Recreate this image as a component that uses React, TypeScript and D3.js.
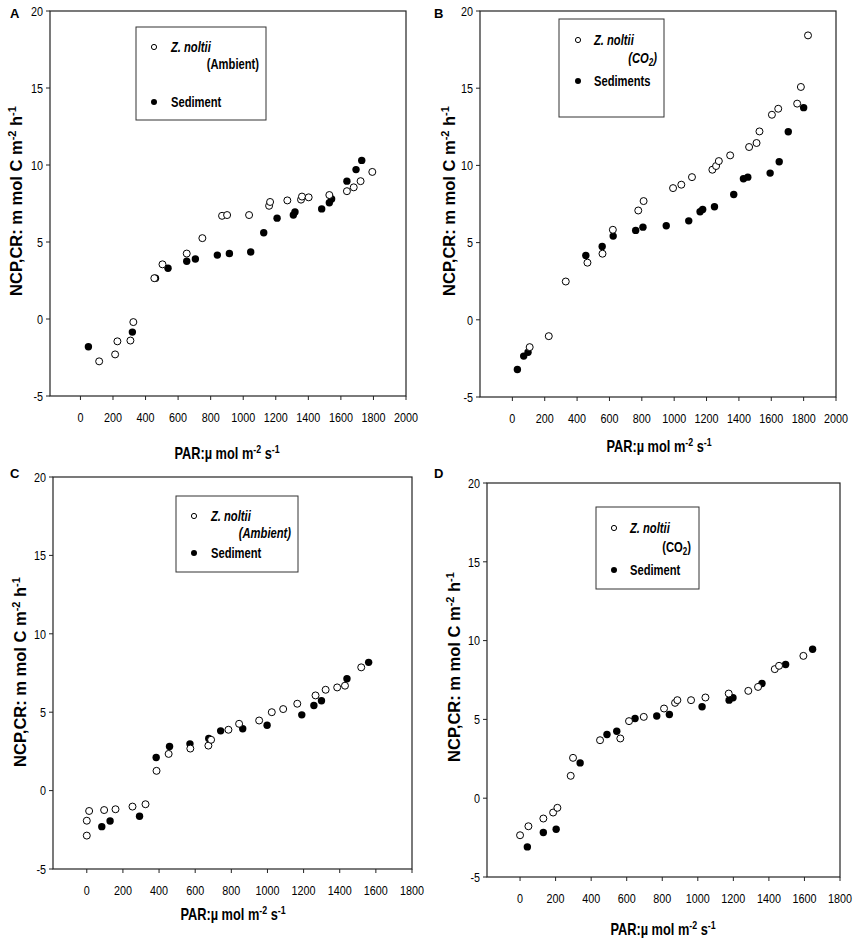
import * as React from 'react';
import * as d3 from 'd3';

type Pt = [number, number];

// PAR, NCP/CR pairs
const aNoltii: Pt[] = [
	[115, -2.75], [213, -2.3], [227, -1.45], [307, -1.4], [325, -0.2], [454, 2.65], [504, 3.55],
	[653, 4.25], [749, 5.25], [870, 6.7], [901, 6.75], [1036, 6.75], [1159, 7.35], [1165, 7.6],
	[1271, 7.7], [1355, 7.75], [1361, 7.95], [1402, 7.9], [1529, 8.05], [1637, 8.3], [1679, 8.55],
	[1721, 8.95], [1793, 9.55],
];
const aSediment: Pt[] = [
	[49, -1.8], [319, -0.85], [461, 2.65], [538, 3.3], [653, 3.75], [706, 3.9], [841, 4.15],
	[915, 4.25], [1046, 4.35], [1126, 5.6], [1208, 6.55], [1308, 6.75], [1318, 6.95], [1482, 7.15],
	[1529, 7.55], [1543, 7.8], [1637, 8.95], [1693, 9.7], [1728, 10.3],
];
const bNoltii: Pt[] = [
	[107, -1.77], [225, -1.06], [330, 2.48], [464, 3.7], [557, 4.28], [621, 5.83], [778, 7.08],
	[811, 7.69], [993, 8.53], [1044, 8.75], [1110, 9.24], [1236, 9.72], [1259, 9.96], [1276, 10.28],
	[1346, 10.65], [1463, 11.19], [1509, 11.45], [1527, 12.2], [1604, 13.28], [1643, 13.67],
	[1760, 14.0], [1783, 15.08], [1827, 18.42],
];
const bSediment: Pt[] = [
	[31, -3.22], [70, -2.35], [97, -2.1], [454, 4.17], [555, 4.75], [623, 5.42], [762, 5.79],
	[807, 6.0], [951, 6.09], [1090, 6.41], [1160, 7.0], [1176, 7.15], [1249, 7.32], [1368, 8.12],
	[1428, 9.14], [1455, 9.24], [1593, 9.5], [1649, 10.24], [1705, 12.18], [1800, 13.74],
];
const cNoltii: Pt[] = [
	[0, -2.87], [0, -1.92], [13, -1.3], [96, -1.24], [159, -1.19], [253, -1.02], [325, -0.87],
	[386, 1.26], [453, 2.34], [573, 2.68], [673, 2.87], [688, 3.24], [784, 3.88], [843, 4.26],
	[954, 4.47], [1024, 5.0], [1087, 5.2], [1165, 5.54], [1266, 6.07], [1322, 6.43], [1386, 6.58],
	[1429, 6.69], [1519, 7.86],
];
const cSediment: Pt[] = [
	[83, -2.3], [129, -1.94], [292, -1.64], [384, 2.11], [458, 2.81], [571, 2.98], [675, 3.32],
	[741, 3.81], [863, 3.94], [998, 4.17], [1190, 4.83], [1257, 5.43], [1299, 5.73], [1440, 7.13],
	[1560, 8.18],
];
const dNoltii: Pt[] = [
	[0, -2.35], [47, -1.78], [131, -1.29], [186, -0.91], [210, -0.61], [285, 1.42], [298, 2.56],
	[450, 3.68], [564, 3.79], [613, 4.89], [696, 5.16], [810, 5.69], [872, 6.05], [885, 6.22],
	[962, 6.22], [1043, 6.39], [1174, 6.64], [1284, 6.81], [1339, 7.06], [1433, 8.19], [1457, 8.4],
	[1594, 9.03],
];
const dSediment: Pt[] = [
	[41, -3.09], [131, -2.18], [203, -1.97], [338, 2.24], [489, 4.04], [544, 4.25], [647, 5.06],
	[769, 5.22], [840, 5.31], [1024, 5.8], [1176, 6.22], [1198, 6.37], [1361, 7.28], [1494, 8.48],
	[1646, 9.45],
];

const yTicks = [-5, 0, 5, 10, 15, 20];
const xTicksWide = d3.range(0, 2001, 200);
const xTicksNarrow = d3.range(0, 1801, 200);

const SANS = "'Liberation Sans', Arial, sans-serif";
const SQUEEZE = 0.8; // no narrow face installed, so squeeze the regular one

// text drawn in a squeezed sans, anchored at (x, y)
const NText = ({ x, y, children, ...rest }) => (
	<g transform={`translate(${x},${y}) scale(${SQUEEZE},1)`}>
		<text fontFamily={SANS} {...rest}>
			{children}
		</text>
	</g>
);

const Panel = ({ p }) => {
	const { l, t, r, b } = p.frame;
	const x = d3.scaleLinear().domain(p.xDomain).range([l, r]);
	const y = d3.scaleLinear().domain([-5, 20]).range([b, t]);
	const lg = p.legend;

	return (
		<g>
			<text x={p.letter[0]} y={p.letter[1]} fontFamily={SANS} fontWeight='bold' fontSize={13}>
				{p.name}
			</text>
			<rect x={l} y={t} width={r - l} height={b - t} fill='none' stroke='#222' strokeWidth={1.2} />
			{yTicks.map(v => (
				<g key={v}>
					<line x1={l - 4} x2={l} y1={y(v)} y2={y(v)} stroke='#222' />
					<NText x={l - 7} y={y(v)} dy='0.35em' textAnchor='end' fontSize={13.5}>
						{v}
					</NText>
				</g>
			))}
			{p.xTicks.map(v => (
				<g key={v}>
					<line x1={x(v)} x2={x(v)} y1={b} y2={b + 4} stroke='#222' />
					<NText x={x(v)} y={b + 26} textAnchor='middle' fontSize={13.5}>
						{v}
					</NText>
				</g>
			))}
			<text
				transform={`translate(${p.yLabel[0]},${p.yLabel[1]}) rotate(-90)`}
				textAnchor='middle'
				fontFamily={SANS}
				fontWeight='bold'
				fontSize={16.5}
				dy='0.35em'
			>
				NCP,CR: m mol C m<tspan fontSize={11} dy={-6}>-2</tspan>
				<tspan dy={6}> h</tspan>
				<tspan fontSize={11} dy={-6}>-1</tspan>
			</text>
			<NText x={p.xLabel[0]} y={p.xLabel[1]} textAnchor='middle' fontWeight='bold' fontSize={16}>
				PAR:µ mol m<tspan fontSize={11} dy={-6}>-2</tspan>
				<tspan dy={6}> s</tspan>
				<tspan fontSize={11} dy={-6}>-1</tspan>
			</NText>

			{p.filled.map((d, i) => (
				<circle key={'f' + i} cx={x(d[0])} cy={y(d[1])} r={3.7} fill='#000' />
			))}
			{p.open.map((d, i) => (
				<circle key={'o' + i} cx={x(d[0])} cy={y(d[1])} r={3.5} fill='#fff' stroke='#000' strokeWidth={1} />
			))}

			<rect
				x={lg.box[0]}
				y={lg.box[1]}
				width={lg.box[2] - lg.box[0]}
				height={lg.box[3] - lg.box[1]}
				fill='#fff'
				stroke='#333'
				strokeWidth={1}
			/>
			<circle cx={lg.mx} cy={lg.y1} r={2.6} fill='#fff' stroke='#000' />
			<NText x={lg.tx} y={lg.y1} dy='0.35em' fontWeight='bold' fontStyle='italic' fontSize={14}>
				Z. noltii
			</NText>
			<NText
				x={lg.qx}
				y={lg.qy}
				dy='0.35em'
				textAnchor='end'
				fontWeight='bold'
				fontStyle={lg.italic ? 'italic' : 'normal'}
				fontSize={14}
			>
				{lg.co2 ? (
					<>
						(CO
						<tspan fontSize={10} dy={3}>
							2
						</tspan>
						<tspan dy={-3}>)</tspan>
					</>
				) : (
					'(Ambient)'
				)}
			</NText>
			<circle cx={lg.mx} cy={lg.y2} r={3} fill='#000' />
			<NText x={lg.tx} y={lg.y2} dy='0.35em' fontWeight='bold' fontSize={14}>
				{lg.sediment}
			</NText>
		</g>
	);
};

const panels = [
	{
		name: 'A',
		letter: [10, 18],
		frame: { l: 50, t: 11, r: 406, b: 396 },
		xDomain: [-187, 2000],
		xTicks: xTicksWide,
		open: aNoltii,
		filled: aSediment,
		yLabel: [16, 201],
		xLabel: [227, 459],
		legend: {
			box: [136, 27, 266, 120],
			mx: 154,
			tx: 171,
			y1: 47,
			qx: 259,
			qy: 64,
			y2: 102,
			co2: false,
			italic: false,
			sediment: 'Sediment',
		},
	},
	{
		name: 'B',
		letter: [434, 18],
		frame: { l: 480, t: 11, r: 836, b: 397 },
		xDomain: [-200, 2000],
		xTicks: xTicksWide,
		open: bNoltii,
		filled: bSediment,
		yLabel: [449, 201],
		xLabel: [659, 452],
		legend: {
			box: [559, 19, 664, 117],
			mx: 578,
			tx: 594,
			y1: 40,
			qx: 657,
			qy: 58,
			y2: 81,
			co2: true,
			italic: true,
			sediment: 'Sediments',
		},
	},
	{
		name: 'C',
		letter: [10, 478],
		frame: { l: 53, t: 477, r: 412, b: 869 },
		xDomain: [-187, 1800],
		xTicks: xTicksNarrow,
		open: cNoltii,
		filled: cSediment,
		yLabel: [20, 672],
		xLabel: [233, 920],
		legend: {
			box: [176, 496, 298, 572],
			mx: 194,
			tx: 211,
			y1: 516,
			qx: 291,
			qy: 533,
			y2: 553,
			co2: false,
			italic: true,
			sediment: 'Sediment',
		},
	},
	{
		name: 'D',
		letter: [434, 478],
		frame: { l: 487, t: 483, r: 840, b: 877 },
		xDomain: [-186, 1800],
		xTicks: xTicksNarrow,
		open: dNoltii,
		filled: dSediment,
		yLabel: [454, 667],
		xLabel: [663, 935],
		legend: {
			box: [596, 507, 699, 589],
			mx: 614,
			tx: 630,
			y1: 528,
			qx: 691,
			qy: 547,
			y2: 570,
			co2: true,
			italic: false,
			sediment: 'Sediment',
		},
	},
];

export default function App() {
	return (
		<svg
			width={856}
			height={947}
			viewBox='0 0 856 947'
			style={{ position: 'absolute', left: 0, top: 0, background: '#fff' }}
		>
			{panels.map(p => (
				<Panel key={p.name} p={p} />
			))}
		</svg>
	);
}
